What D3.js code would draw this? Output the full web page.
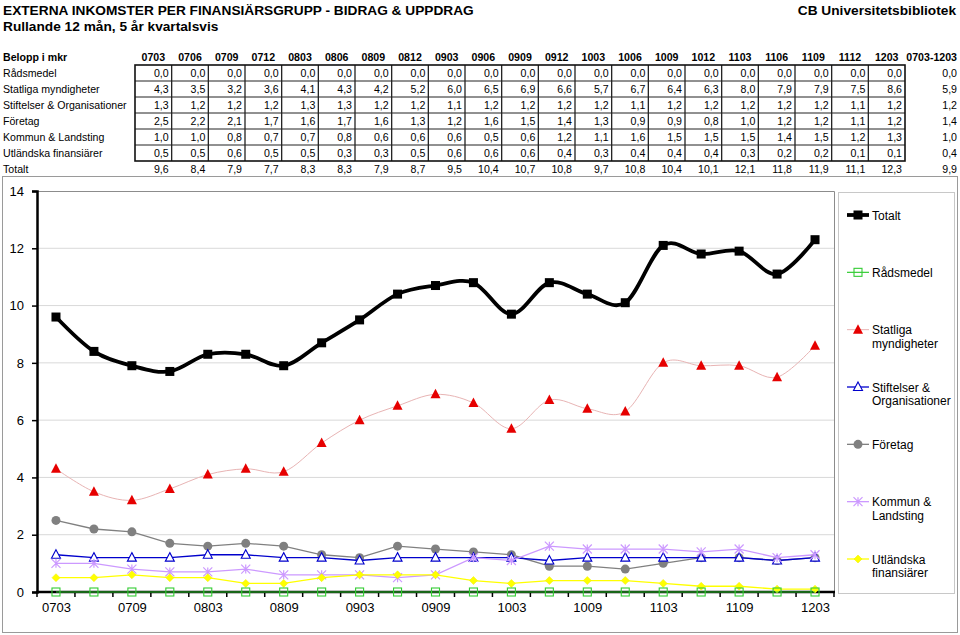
<!DOCTYPE html>
<html><head><meta charset="utf-8">
<script src="https://cdn.jsdelivr.net/npm/d3@7"></script>
<style>
body{margin:0;background:#fff;}
svg{display:block;font-family:"Liberation Sans",Arial,sans-serif;}
</style></head><body>
<svg id="c" width="960" height="635"></svg>
<script>
const categories=["0703","0706","0709","0712","0803","0806","0809","0812","0903","0906","0909","0912","1003","1006","1009","1012","1103","1106","1109","1112","1203"];
const radsmedel=[0,0,0,0,0,0,0,0,0,0,0,0,0,0,0,0,0,0,0,0,0];
const statliga=[4.3,3.5,3.2,3.6,4.1,4.3,4.2,5.2,6.0,6.5,6.9,6.6,5.7,6.7,6.4,6.3,8.0,7.9,7.9,7.5,8.6];
const stiftelser=[1.3,1.2,1.2,1.2,1.3,1.3,1.2,1.2,1.1,1.2,1.2,1.2,1.2,1.1,1.2,1.2,1.2,1.2,1.2,1.1,1.2];
const foretag=[2.5,2.2,2.1,1.7,1.6,1.7,1.6,1.3,1.2,1.6,1.5,1.4,1.3,0.9,0.9,0.8,1.0,1.2,1.2,1.1,1.2];
const kommun=[1.0,1.0,0.8,0.7,0.7,0.8,0.6,0.6,0.6,0.5,0.6,1.2,1.1,1.6,1.5,1.5,1.5,1.4,1.5,1.2,1.3];
const utlandska=[0.5,0.5,0.6,0.5,0.5,0.3,0.3,0.5,0.6,0.6,0.6,0.4,0.3,0.4,0.4,0.4,0.3,0.2,0.2,0.1,0.1];
const totalt=[9.6,8.4,7.9,7.7,8.3,8.3,7.9,8.7,9.5,10.4,10.7,10.8,9.7,10.8,10.4,10.1,12.1,11.8,11.9,11.1,12.3];
const periodTotals=[0.0,5.9,1.2,1.4,1.0,0.4,9.9];
const periodLabel="0703-1203";
const rowLabels=["Rådsmedel","Statliga myndigheter","Stiftelser & Organisationer","Företag","Kommun & Landsting","Utländska finansiärer","Totalt"];
const legendLabels=[["Totalt"],["Rådsmedel"],["Statliga","myndigheter"],["Stiftelser &","Organisationer"],["Företag"],["Kommun &","Landsting"],["Utländska","finansiärer"]];
const yTicks=[0,2,4,6,8,10,12,14];
const xLabelCats=["0703","0709","0803","0809","0903","0909","1003","1009","1103","1109","1203"];

const svg=d3.select("#c");
const fmt=v=>d3.format(".1f")(v).replace(".",",");

// Titles
svg.append("text").attr("x",3).attr("y",15).attr("font-size",13.7).attr("font-weight","bold").text("EXTERNA INKOMSTER PER FINANSIÄRSGRUPP - BIDRAG & UPPDRAG");
svg.append("text").attr("x",3).attr("y",31).attr("font-size",13.7).attr("font-weight","bold").text("Rullande 12 mån, 5 år kvartalsvis");
svg.append("text").attr("x",956).attr("y",15).attr("font-size",13.7).attr("font-weight","bold").attr("text-anchor","end").text("CB Universitetsbibliotek");

// Table
const tableRows=[radsmedel,statliga,stiftelser,foretag,kommun,utlandska,totalt];
const tx=d3.scaleBand().domain(categories).range([135,905]);
const ty=d3.scaleBand().domain(d3.range(7)).range([65,177]);
const tg=svg.append("g").attr("font-size",10.6);
tg.append("text").attr("x",3).attr("y",61).attr("font-weight","bold").text("Belopp i mkr");
categories.forEach(c=>{
  tg.append("text").attr("x",tx(c)+tx.bandwidth()/2).attr("y",61).attr("text-anchor","middle").attr("font-weight","bold").text(c);
});
tg.append("text").attr("x",957).attr("y",61).attr("text-anchor","end").attr("font-weight","bold").text(periodLabel);
rowLabels.forEach((lab,i)=>{
  tg.append("text").attr("x",3).attr("y",ty(i)+12).text(lab);
  tableRows[i].forEach((v,j)=>{
    tg.append("text").attr("x",tx(categories[j])+tx.bandwidth()-3).attr("y",ty(i)+12).attr("text-anchor","end").text(fmt(v));
  });
  tg.append("text").attr("x",957).attr("y",ty(i)+12).attr("text-anchor","end").text(fmt(periodTotals[i]));
});
const gTop=ty(0), gBot=ty(5)+ty.bandwidth();
for(let i=1;i<6;i++){
  tg.append("line").attr("x1",135).attr("x2",905).attr("y1",ty(i)).attr("y2",ty(i)).attr("stroke","#222").attr("stroke-width",1);
}
categories.forEach((c,j)=>{ if(j>0) tg.append("line").attr("x1",tx(c)).attr("x2",tx(c)).attr("y1",gTop).attr("y2",gBot).attr("stroke","#222").attr("stroke-width",1.3);});
tg.append("rect").attr("x",135).attr("y",gTop).attr("width",770).attr("height",gBot-gTop).attr("fill","none").attr("stroke","#111").attr("stroke-width",1.6);

// Chart frame
svg.append("rect").attr("x",2.5).attr("y",176.5).attr("width",955).attr("height",456).attr("fill","none").attr("stroke","#9a9a9a").attr("stroke-width",1);

const L=37,R=834,T=191,B=592;
const x=d3.scaleBand().domain(categories).range([L,R]);
const cx=c=>x(c)+x.bandwidth()/2;
const y=d3.scaleLinear().domain([0,14]).range([B,T]);

svg.append("g").selectAll("line").data(yTicks.filter(t=>t>0&&t<14)).join("line")
  .attr("x1",L).attr("x2",R).attr("y1",d=>y(d)).attr("y2",d=>y(d)).attr("stroke","#d9d9d9").attr("stroke-width",1);
svg.append("path").attr("d",`M${L},${T+0.5}H${R+0.5}V${B}`).attr("fill","none").attr("stroke","#8c8c8c").attr("stroke-width",1);

const ya=svg.append("g").attr("transform",`translate(${L},0)`).call(d3.axisLeft(y).tickValues(yTicks).tickSize(5).tickPadding(8).tickFormat(d3.format("d")));
ya.select(".domain").attr("stroke","#000").attr("stroke-width",2.5);
ya.selectAll(".tick line").attr("stroke","#000").attr("stroke-width",1.5);
ya.selectAll("text").attr("font-size",13).attr("font-family","Liberation Sans, Arial, sans-serif").attr("fill","#000");

const xa=svg.append("g").attr("transform",`translate(0,${B})`);
xa.selectAll("line").data(categories.map(c=>x(c)).concat([R])).join("line")
  .attr("x1",d=>d).attr("x2",d=>d).attr("y1",0).attr("y2",5).attr("stroke","#000").attr("stroke-width",1.5);
const xl=svg.append("g").attr("transform",`translate(0,${B})`)
  .call(d3.axisBottom(d3.scalePoint().domain(categories).range([cx(categories[0]),cx(categories[categories.length-1])])).tickValues(xLabelCats).tickSize(0).tickPadding(11));
xl.select(".domain").remove();
xl.selectAll("text").attr("font-size",13).attr("font-family","Liberation Sans, Arial, sans-serif").attr("fill","#000");
svg.append("line").attr("x1",L-1).attr("x2",R+1).attr("y1",B).attr("y2",B).attr("stroke","#000").attr("stroke-width",2.5);

const smooth=d3.curveCardinal.tension(0);
const series=[
  {key:"Totalt",vals:totalt,color:"#000",lw:3.8,curve:smooth,marker:"sq"},
  {key:"Rådsmedel",vals:radsmedel,color:"#33cc33",lw:1.2,curve:d3.curveLinear,marker:"osq"},
  {key:"Statliga",vals:statliga,color:"#e8b4b4",lw:1,curve:smooth,marker:"tri"},
  {key:"Stiftelser",vals:stiftelser,color:"#0000cc",lw:1.3,curve:d3.curveLinear,marker:"otri"},
  {key:"Företag",vals:foretag,color:"#808080",lw:1.3,curve:d3.curveLinear,marker:"circ"},
  {key:"Kommun",vals:kommun,color:"#cc99ff",lw:1.3,curve:d3.curveLinear,marker:"ast"},
  {key:"Utländska",vals:utlandska,color:"#ffff00",lw:1.3,curve:d3.curveLinear,marker:"dia"}
];
function marker(g,type,px,py){
  if(type==="sq") g.append("rect").attr("x",px-4.5).attr("y",py-4.5).attr("width",9).attr("height",9).attr("fill","#000");
  else if(type==="osq") g.append("rect").attr("x",px-4).attr("y",py-4).attr("width",8).attr("height",8).attr("fill","none").attr("stroke","#33cc33").attr("stroke-width",1.1);
  else if(type==="tri") g.append("path").attr("d",`M${px},${py-5.5}L${px+5},${py+4}L${px-5},${py+4}Z`).attr("fill","#e60000");
  else if(type==="otri") g.append("path").attr("d",`M${px},${py-5}L${px+4.5},${py+3.5}L${px-4.5},${py+3.5}Z`).attr("fill","#fff").attr("stroke","#0000cc").attr("stroke-width",1.1);
  else if(type==="circ") g.append("circle").attr("cx",px).attr("cy",py).attr("r",4.5).attr("fill","#808080");
  else if(type==="ast"){const s=4.5;g.append("path").attr("d",`M${px-s},${py-s}L${px+s},${py+s}M${px-s},${py+s}L${px+s},${py-s}M${px},${py-s}V${py+s}`).attr("stroke","#cc99ff").attr("stroke-width",1.2);}
  else if(type==="dia") g.append("path").attr("d",`M${px},${py-4}L${px+4},${py}L${px},${py+4}L${px-4},${py}Z`).attr("fill","#ffff00").attr("stroke","#eeee00").attr("stroke-width",0.5);
}
const order=[0,4,3,5,6,2,1];
order.forEach(i=>{
  const s=series[i];
  const line=d3.line().x((d,j)=>cx(categories[j])).y(d=>y(d)).curve(s.curve);
  svg.append("path").attr("d",line(s.vals)).attr("fill","none").attr("stroke",s.color).attr("stroke-width",s.lw);
  const mg=svg.append("g");
  s.vals.forEach((v,j)=>marker(mg,s.marker,cx(categories[j]),y(v)));
});

svg.append("rect").attr("x",838.5).attr("y",192.5).attr("width",116).attr("height",401).attr("fill","#fff").attr("stroke","#c8c8c8").attr("stroke-width",1);
const legY=d3.scaleLinear().domain([0,6]).range([215,559]);
series.forEach((s,i)=>{
  const ly=legY(i);
  const g=svg.append("g");
  g.append("line").attr("x1",847).attr("x2",869).attr("y1",ly).attr("y2",ly).attr("stroke",s.color).attr("stroke-width",s.lw);
  marker(g,s.marker,858,ly);
  legendLabels[i].forEach((t,k)=>{
    g.append("text").attr("x",872).attr("y",ly+4.5+k*13.5).attr("font-size",12).text(t);
  });
});
</script></body></html>
